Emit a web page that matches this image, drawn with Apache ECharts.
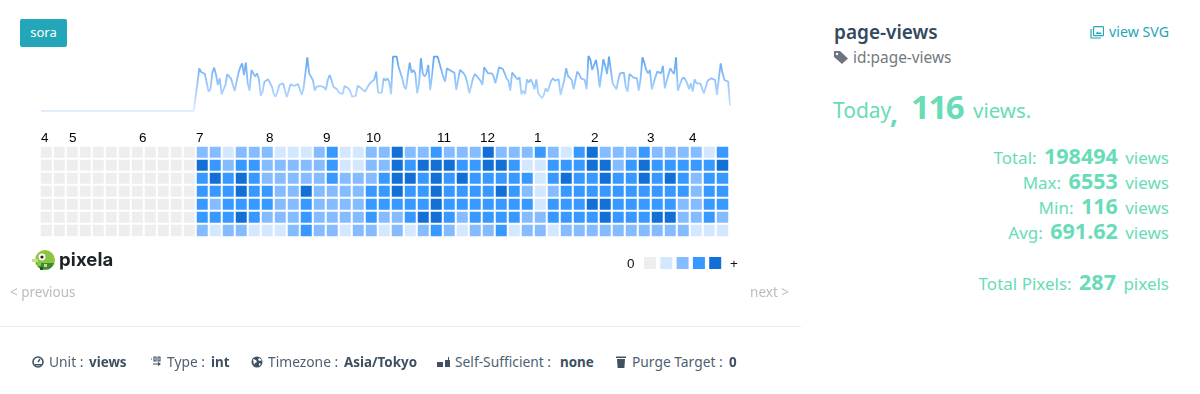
<!DOCTYPE html>
<html>
<head>
<meta charset="utf-8">
<title>page-views</title>
<script src="https://cdn.jsdelivr.net/npm/echarts@6/dist/echarts.min.js"></script>
<style>
  html, body { margin: 0; padding: 0; background: #fff; }
  body { width: 1200px; height: 394px; position: relative; overflow: hidden; font-family: "Noto Sans", sans-serif; }
  #chart { position: absolute; left: 0; top: 0; width: 800px; height: 300px; }
  .t { position: absolute; white-space: nowrap; line-height: 1; }
  .r { position: absolute; right: 31px; white-space: nowrap; line-height: 1; color: #68dcb7; font-size: 17px; }
  .r b { font-size: 21.5px; font-weight: 700; margin: 0 3px; }
  .foot { color: #4e5f70; font-size: 13.8px; top: 355px; }
  .foot b { font-weight: 700; color: #3d4f60; font-size: 13.4px; }
  .nav { color: #bcbcbc; font-size: 13.5px; top: 286px; }
  svg { position: absolute; }
  #badge { position: absolute; left: 20px; top: 19px; width: 47px; height: 28px; background: #23a6b7; border-radius: 2px;
    color: #fff; font-size: 13px; line-height: 27px; text-align: center; }
  #hr { position: absolute; left: 0; top: 326px; width: 801px; height: 1px; background: #eeeeee; }
</style>
</head>
<body>
<div id="chart"></div>
<div id="badge">sora</div>

<svg style="left:32px;top:248px" width="24" height="25" viewBox="0 0 24 25">
  <circle cx="13" cy="12" r="10" fill="#8cc540"/>
  <path d="M4 15h18a10 10 0 0 1-6 6.5h-6A10 10 0 0 1 4 15z" fill="#3c8c36"/>
  <rect x="0" y="11" width="6" height="3" fill="#c5de8a"/>
  <rect x="5" y="15" width="4" height="3" fill="#8cc540"/>
  <rect x="8" y="19" width="3" height="3" fill="#1f5a26"/>
  <rect x="12" y="16" width="3" height="3" fill="#c5de8a"/>
  <circle cx="10" cy="9" r="3.4" fill="#fff"/>
  <circle cx="10" cy="9" r="1.6" fill="#222"/>
</svg>
<div class="t" style="left:59px;top:250px;font-family:Inter,sans-serif;font-weight:700;font-size:18.5px;color:#1c2226;letter-spacing:.1px">pixela</div>

<div class="t nav" style="left:10px">&lt; previous</div>
<div class="t nav" style="right:411px">next &gt;</div>
<div id="hr"></div>

<!-- footer -->
<svg style="left:32px;top:356px" width="12" height="12" viewBox="0 0 12 12"><circle cx="6" cy="6" r="5" fill="none" stroke="#3f5163" stroke-width="1.6"/><path d="M6 6L8 3" stroke="#3f5163" stroke-width="1.4"/><rect x="3" y="8" width="6" height="1.5" fill="#3f5163"/></svg>
<div class="t foot" style="left:49px">Unit :</div><div class="t foot" style="left:89px"><b>views</b></div>
<svg style="left:150px;top:356px" width="12" height="11" viewBox="0 0 12 11"><path d="M1 3h1M4 1h2v4H4zM8 1h2v4H8zM3 8h7M8 6.5L10 8L8 9.5" stroke="#3f5163" fill="none" stroke-width="1.1"/></svg>
<div class="t foot" style="left:167px">Type :</div><div class="t foot" style="left:211px"><b>int</b></div>
<svg style="left:251px;top:356px" width="12" height="12" viewBox="0 0 12 12"><circle cx="6" cy="6" r="5.5" fill="#3f5163"/><path d="M2 3l3 1 1 2-2 1-1 2M8 2l-1 2 2 1 2-1M8 7l2 1-2 2z" fill="#fff"/></svg>
<div class="t foot" style="left:268px">Timezone :</div><div class="t foot" style="left:344px"><b>Asia/Tokyo</b></div>
<svg style="left:437px;top:356px" width="13" height="12" viewBox="0 0 13 12"><path d="M0 6h6v5H0zM8 4h3V1h1v3h1v7H8z" fill="#3f5163"/></svg>
<div class="t foot" style="left:455px">Self-Sufficient :</div><div class="t foot" style="left:560px"><b>none</b></div>
<svg style="left:616px;top:355px" width="10" height="13" viewBox="0 0 10 13"><path d="M0 1.5h10V3H0zM1 4h8l-.6 9H1.6z" fill="#3f5163"/></svg>
<div class="t foot" style="left:632px">Purge Target :</div><div class="t foot" style="left:729px"><b>0</b></div>

<!-- right panel -->
<div class="t" style="left:834px;top:23px;font-size:19px;font-weight:600;color:#34495e">page-views</div>
<svg style="left:1090px;top:26px" width="14" height="13" viewBox="0 0 14 13"><rect x="3.5" y=".7" width="10" height="9" rx="1" fill="none" stroke="#23a6b7" stroke-width="1.2"/><path d="M1 3v9h10" fill="none" stroke="#23a6b7" stroke-width="1.2"/><path d="M5.5 8l2-2.5L9 7l1-1 2 2z" fill="#23a6b7"/></svg>
<div class="t" style="right:31px;top:25px;font-size:14.2px;color:#23a6b7">view SVG</div>
<svg style="left:834px;top:51px" width="14" height="13" viewBox="0 0 14 13"><path d="M0 0h6l8 7.5L8 13 0 6z" fill="#6c757d"/><circle cx="3" cy="3" r="1.2" fill="#fff"/></svg>
<div class="t" style="left:853px;top:50px;font-size:15.4px;color:#74797e">id:page-views</div>

<div class="t" style="left:833px;top:100px;font-size:21px;color:#68dcb7">Today</div>
<div class="t" style="left:890px;top:98px;font-size:28px;font-weight:700;color:#68dcb7">,</div>
<div class="t" style="left:911px;top:90px;font-size:33px;font-weight:700;letter-spacing:-1.5px;color:#68dcb7">116</div>
<div class="t" style="left:973px;top:100px;font-size:20.5px;color:#68dcb7">views.</div>

<div class="r" style="top:145px">Total: <b>198494</b> views</div>
<div class="r" style="top:170px">Max: <b>6553</b> views</div>
<div class="r" style="top:195px">Min: <b>116</b> views</div>
<div class="r" style="top:220px">Avg: <b>691.62</b> views</div>
<div class="r" style="top:271px">Total Pixels: <b>287</b> pixels</div>

<script>
	// one value per day, oldest first, split by week (sun -> sat)
	const dailyViews = [
		0, 0, 0, 0, 0, 0, 0,  0, 0, 0, 0, 0, 0, 0,  0, 0, 0, 0, 0, 0, 0,
		0, 0, 0, 0, 0, 0, 0,  0, 0, 0, 0, 0, 0, 0,  0, 0, 0, 0, 0, 0, 0,
		0, 0, 0, 0, 0, 0, 0,  0, 0, 0, 0, 0, 0, 0,  0, 0, 0, 0, 0, 0, 0,
		0, 0, 0, 0, 0, 0, 0,  0, 0, 0, 0, 0, 0, 0,  0, 0, 0, 0, 0, 0, 0,
		622, 960, 878, 848, 832, 818, 435,
		488, 862, 975, 810, 585, 735, 375,
		360, 585, 825, 810, 735, 735, 450,
		472, 848, 983, 1072, 810, 1088, 622,
		458, 922, 848, 772, 848, 712, 338,
		435, 660, 660, 712, 712, 548, 382,
		322, 435, 585, 585, 622, 608, 308,
		322, 600, 585, 562, 600, 608, 638,
		360, 510, 488, 1208, 848, 772, 698,
		458, 548, 578, 562, 562, 532, 472,
		698, 810, 698, 548, 532, 488, 412,
		375, 382, 562, 570, 510, 458, 322,
		322, 338, 570, 532, 510, 488, 435,
		398, 585, 638, 682, 712, 885, 412,
		435, 412, 735, 682, 735, 660, 375,
		1222, 1222, 1222, 998, 862, 735, 548,
		488, 810, 1088, 862, 922, 848, 398,
		622, 1185, 848, 772, 848, 1035, 472,
		810, 1222, 1222, 1222, 1185, 922, 772,
		660, 960, 938, 908, 885, 862, 472,
		435, 922, 945, 848, 772, 622, 398,
		435, 735, 832, 848, 735, 682, 585,
		983, 1012, 848, 862, 848, 788, 622,
		585, 983, 938, 945, 848, 735, 682,
		458, 862, 832, 758, 712, 758, 375,
		458, 382, 712, 638, 712, 622, 488,
		712, 398, 360, 285, 360, 510, 435,
		472, 682, 735, 682, 682, 712, 360,
		360, 698, 960, 788, 810, 698, 488,
		698, 885, 832, 735, 735, 698, 488,
		1238, 1162, 922, 885, 1148, 922, 532,
		532, 1162, 1012, 832, 1222, 1222, 622,
		585, 488, 698, 848, 892, 862, 548,
		435, 832, 788, 758, 742, 735, 458,
		735, 1208, 1088, 922, 848, 922, 488,
		488, 772, 885, 908, 848, 1012, 510,
		488, 832, 960, 885, 832, 1208, 458,
		435, 698, 758, 712, 622, 488, 622,
		435, 712, 622, 622, 622, 622, 398,
		360, 682, 712, 735, 735, 698, 360,
		735, 1072, 848, 698, 698, 660, 116
	];

	// heatmap level (0-4) per weekday row, one column per week
	const levelsSun = [0,0,0,0,0,0,0,0,0,0,0,0, 2,2,1,2,2,2, 1,1,1,2,3,1,1,2,2,4,2,2,3,2,2,2,4,2, 2,2,3,2,1,3,4,2,2,2,3,2,2,2,2,1,3];
	const levelsMon = [0,0,0,0,0,0,0,0,0,0,0,0, 4,3,2,3,3,2, 2,2,2,2,3,1,1,2,2,4,3,4,4,4,3,3,4,4, 3,1,1,3,3,3,4,4,2,3,4,3,3,3,3,3,4];
	const levelsTue = [0,0,0,0,0,0,0,0,0,0,0,0, 3,4,3,4,3,2, 2,2,2,2,3,2,2,2,3,4,4,3,4,3,4,3,3,3, 3,3,1,3,4,3,3,4,3,3,4,3,4,3,2,3,3];
	const levelsWed = [0,0,0,0,0,0,0,0,0,0,0,0, 3,3,3,4,3,3, 2,2,4,2,2,2,2,3,3,4,3,3,4,3,3,3,3,4, 3,2,1,2,3,3,3,3,3,3,3,3,3,3,2,3,3];
	const levelsThu = [0,0,0,0,0,0,0,0,0,0,0,0, 3,2,3,3,3,3, 2,2,3,2,2,2,2,3,3,3,3,3,4,3,3,3,3,3, 3,3,1,3,3,3,4,4,3,3,3,3,3,2,2,3,3];
	const levelsFri = [0,0,0,0,0,0,0,0,0,0,0,0, 3,3,3,4,3,2, 2,2,3,2,2,2,2,3,2,2,3,4,4,3,2,3,3,3, 3,2,2,3,3,3,3,4,3,3,3,4,4,2,2,3,2];
	const levelsSat = [0,0,0,0,0,0,0,0,0,0,0,0, 2,1,2,2,1,1, 1,2,3,2,2,1,2,2,1,2,1,2,3,2,1,2,2,3, 1,2,2,1,2,2,2,2,2,2,2,2,2,2,1,1,1];

	const monthLabels = ['4', '5', '6', '7', '8', '9', '10', '11', '12', '1', '2', '3', '4'];
	const monthLabelX = [41, 69, 139, 196, 266, 323, 366, 437, 480, 534, 591, 647, 689];
	const levelColors = ['#eeeeee', '#d3e7ff', '#85bcff', '#3798ff', '#126fd6'];

	const rows = [levelsSun, levelsMon, levelsTue, levelsWed, levelsThu, levelsFri, levelsSat];
	const cells = [];
	rows.forEach((row, y) => {
		row.forEach((level, x) => {
			cells.push([x, y, level]);
		});
	});

	const monthTexts = monthLabels.map((m, i) => ({
		type: 'text',
		left: monthLabelX[i],
		top: 131,
		style: {text: m, fill: '#000', font: '13.5px "Liberation Sans"'}
	}));
	// ends of the swatch row
	const legendTexts = [
		{type: 'text', left: 627, top: 257, style: {text: '0', fill: '#111', font: '13.5px "Liberation Sans"'}},
		{type: 'text', left: 730, top: 257, style: {text: '+', fill: '#111', font: '13.5px "Liberation Sans"'}}
	];

	const chart = echarts.init(document.getElementById('chart'));
	chart.setOption({
		animation: false,
		grid: [
			{left: 41, top: 51, width: 689, height: 60},
			{left: 40, top: 146, width: 689, height: 91}
		],
		xAxis: [
			{gridIndex: 0, type: 'category', boundaryGap: false, data: dailyViews.map((v, i) => i), show: false},
			{gridIndex: 1, type: 'category', data: levelsSun.map((v, i) => i), show: false}
		],
		yAxis: [
			{gridIndex: 0, type: 'value', min: 0, max: 1350, show: false},
			{gridIndex: 1, type: 'category', inverse: true, data: rows.map((v, i) => i), show: false}
		],
		visualMap: {
			type: 'piecewise',
			seriesIndex: 1,
			dimension: 2,
			orient: 'horizontal',
			left: 644,
			top: 257,
			padding: 0,
			itemWidth: 12,
			itemHeight: 12,
			itemGap: 4.3,
			itemSymbol: 'rect',
			showLabel: false,
			selectedMode: false,
			hoverLink: false,
			pieces: levelColors.map((c, i) => ({value: i, color: c}))
		},
		graphic: monthTexts.concat(legendTexts),
		series: [
			{
				type: 'line',
				xAxisIndex: 0,
				yAxisIndex: 0,
				data: dailyViews,
				showSymbol: false,
				lineStyle: {
					width: 1.8,
					color: new echarts.graphic.LinearGradient(0, 0, 0, 1, [
						{offset: 0, color: '#5a9fe8'},
						{offset: 0.35, color: '#83bcfb'},
						{offset: 0.7, color: '#b0d5ff'},
						{offset: 1, color: '#e6f1fd'}
					])
				}
			},
			{
				type: 'heatmap',
				xAxisIndex: 1,
				yAxisIndex: 1,
				data: cells,
				itemStyle: {borderColor: '#fff', borderWidth: 2},
				emphasis: {disabled: true}
			}
		]
	});
</script>
</body>
</html>
